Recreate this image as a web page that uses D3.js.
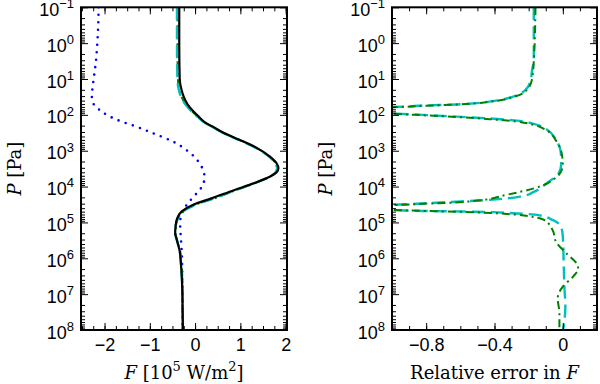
<!DOCTYPE html>
<html>
<head>
<meta charset="utf-8">
<script src="https://cdn.jsdelivr.net/npm/d3@7"></script>
<style>
  html, body { margin: 0; padding: 0; background: #fff; }
  svg { display: block; font-family: "DejaVu Serif", "Liberation Serif", serif; }
</style>
</head>
<body>
<svg id="chart" width="600" height="384"></svg>
<script>
// pressure axis: decades 10^-1 .. 10^8 (values below are log10 P [Pa])
const P_EXPONENTS = [-1, 0, 1, 2, 3, 4, 5, 6, 7, 8];

// left panel: net flux F [10^5 W/m^2]
const FLUX_TICKS = [-2, -1, 0, 1, 2];
const fluxLogP = [-1, 0, 1, 1.3, 1.5, 1.7, 1.9, 2.05, 2.2, 2.35, 2.5, 2.7, 2.9, 3.17, 3.35, 3.49, 3.6, 3.72, 3.91, 4.1, 4.33, 4.5, 4.7, 4.9, 5.1, 5.3, 5.5, 5.8, 6.2, 6.6, 7.0, 7.5, 8];
const fluxExact = [-0.35, -0.35, -0.34, -0.30, -0.25, -0.17, -0.04, 0.08, 0.21, 0.42, 0.63, 0.99, 1.33, 1.66, 1.80, 1.84, 1.80, 1.66, 1.29, 0.86, 0.36, -0.03, -0.30, -0.40, -0.43, -0.44, -0.40, -0.34, -0.31, -0.29, -0.28, -0.275, -0.27];
const fluxDashed = [-0.40, -0.40, -0.39, -0.36, -0.31, -0.22, -0.08, 0.05, 0.19, 0.40, 0.61, 0.97, 1.31, 1.64, 1.77, 1.81, 1.78, 1.65, 1.30, 0.89, 0.41, 0.01, -0.27, -0.39, -0.43, -0.44, -0.40, -0.34, -0.31, -0.29, -0.28, -0.275, -0.27];
const fluxDashDot = [-0.39, -0.39, -0.38, -0.35, -0.30, -0.21, -0.07, 0.06, 0.19, 0.40, 0.61, 0.98, 1.32, 1.65, 1.78, 1.82, 1.79, 1.66, 1.31, 0.90, 0.42, 0.02, -0.26, -0.38, -0.42, -0.43, -0.40, -0.33, -0.30, -0.28, -0.28, -0.28, -0.275];

const dottedLogP = [-1, -0.5, 0, 0.5, 1.0, 1.3, 1.5, 1.7, 1.85, 2.0, 2.15, 2.3, 2.5, 2.75, 3.0, 3.3, 3.55, 3.75, 3.95, 4.1, 4.3, 4.46, 4.65, 4.85, 5.07, 5.5, 6.0, 7.0, 8.0];
const fluxDotted = [-2.13, -2.14, -2.16, -2.19, -2.24, -2.27, -2.28, -2.24, -2.12, -1.95, -1.70, -1.36, -0.95, -0.48, -0.17, 0.07, 0.18, 0.21, 0.17, 0.10, -0.05, -0.15, -0.27, -0.32, -0.33, -0.31, -0.29, -0.28, -0.27];

// right panel: relative error in F (null = break at a zero crossing of F)
const ERR_TICKS = [-0.8, -0.4, 0];
const errDashedLogP = [-1, 0, 0.47, 0.75, 1.07, 1.31, 1.49, 1.63, 1.71, 1.74, 1.77, 1.80, null, 1.93, 1.96, 2.0, 2.05, 2.10, 2.16, 2.25, 2.42, 2.70, 2.96, 3.2, 3.4, 3.68, 3.82, 4.0, 4.15, 4.28, 4.37, 4.42, 4.47, 4.50, 4.53, null, 4.62, 4.65, 4.68, 4.70, 4.75, 4.79, 4.93, 5.12, 5.40, 6.14, 6.88, 7.3, 7.9, 8.0];
const errDashed = [-0.17, -0.17, -0.17, -0.18, -0.19, -0.22, -0.29, -0.43, -0.62, -0.82, -0.93, -1.2, null, -1.2, -1.01, -0.82, -0.62, -0.43, -0.27, -0.17, -0.09, -0.04, -0.015, -0.01, -0.01, -0.03, -0.07, -0.12, -0.17, -0.25, -0.43, -0.62, -0.82, -0.95, -1.2, null, -1.2, -1.01, -0.82, -0.52, -0.27, -0.15, -0.06, -0.01, 0.0, 0.005, 0.01, 0.015, 0.005, 0.0];
const errDashDotLogP = [-1, 0.5, 1.0, 1.3, 1.49, 1.63, 1.71, 1.75, 1.78, 1.81, null, 1.94, 1.97, 2.01, 2.06, 2.12, 2.18, 2.28, 2.45, 2.72, 3.0, 3.4, 3.65, 3.82, 3.91, 4.05, 4.23, 4.39, 4.45, 4.48, 4.51, 4.54, null, 4.62, 4.65, 4.68, 4.72, 4.78, 4.85, 4.93, 5.21, 5.54, 5.86, 6.14, 6.3, 6.51, 6.79, 7.12, 7.53, 8.0];
const errDashDot = [-0.16, -0.17, -0.18, -0.21, -0.28, -0.42, -0.61, -0.82, -0.95, -1.2, null, -1.2, -1.0, -0.82, -0.62, -0.43, -0.28, -0.17, -0.09, -0.04, -0.01, 0.0, -0.02, -0.06, -0.09, -0.17, -0.33, -0.50, -0.66, -0.82, -0.95, -1.2, null, -1.2, -1.0, -0.8, -0.5, -0.28, -0.17, -0.11, -0.06, -0.04, 0.02, 0.08, 0.09, 0.06, 0.0, -0.03, -0.02, -0.02];

const FONT = 18, SUP = 13;
const svg = d3.select('#chart');

function zip(logP, vals) {
  return logP.map((lp, i) => (lp == null || vals[i] == null) ? null : { p: Math.pow(10, lp), v: vals[i] });
}

function drawPanel(opt) {
  const { id, left, right, top, bottom, xDomain, xTicks, xMinorStep, xFormat, series, xLabel } = opt;
  const x = d3.scaleLinear().domain(xDomain).range([left, right]);
  const y = d3.scaleLog().domain([1e-1, 1e8]).range([top, bottom]);
  const g = svg.append('g');

  g.append('clipPath').attr('id', 'clip-' + id)
    .append('rect').attr('x', left).attr('y', top).attr('width', right - left).attr('height', bottom - top);

  const line = d3.line()
    .defined(d => d != null)
    .x(d => x(d.v)).y(d => y(d.p))
    .curve(d3.curveMonotoneY);

  const plot = g.append('g').attr('clip-path', `url(#clip-${id})`);
  for (const s of series) {
    plot.append('path')
      .attr('d', line(s.data))
      .attr('fill', 'none')
      .attr('stroke', s.color)
      .attr('stroke-width', s.width)
      .attr('stroke-dasharray', s.dash || null)
      .attr('stroke-linecap', s.cap || 'butt')
      .attr('stroke-linejoin', 'round');
  }

  // ticks (all pointing inward, on every side)
  const xMinor = d3.range(xDomain[0], xDomain[1] + 1e-9, xMinorStep)
    .map(v => Math.round(v / xMinorStep) * xMinorStep)
    .filter(v => v >= xDomain[0] - 1e-9 && v <= xDomain[1] + 1e-9);
  const yMajor = P_EXPONENTS.map(e => Math.pow(10, e));
  const yMinor = [];
  for (let e = -1; e < 8; e++) for (let k = 2; k <= 9; k++) yMinor.push(k * Math.pow(10, e));

  const axes = [
    [d3.axisBottom(x).tickValues(xMinor).tickSize(-4).tickFormat(''), `translate(0,${bottom})`],
    [d3.axisTop(x).tickValues(xMinor).tickSize(-4).tickFormat(''), `translate(0,${top})`],
    [d3.axisTop(x).tickValues(xTicks).tickSize(-7).tickFormat(''), `translate(0,${top})`],
    [d3.axisLeft(y).tickValues(yMinor).tickSize(-4).tickFormat(''), `translate(${left},0)`],
    [d3.axisRight(y).tickValues(yMinor).tickSize(-4).tickFormat(''), `translate(${right},0)`],
    [d3.axisRight(y).tickValues(yMajor).tickSize(-7).tickFormat(''), `translate(${right},0)`]
  ];
  for (const [ax, tr] of axes) {
    const a = g.append('g').attr('transform', tr).call(ax);
    a.select('.domain').remove();
    a.selectAll('line').attr('stroke', '#000').attr('stroke-width', 1);
  }

  const xAxis = g.append('g').attr('transform', `translate(0,${bottom})`)
    .call(d3.axisBottom(x).tickValues(xTicks).tickSize(-7).tickPadding(8).tickFormat(xFormat));
  xAxis.select('.domain').remove();
  xAxis.selectAll('line').attr('stroke', '#000').attr('stroke-width', 1);
  xAxis.selectAll('text').attr('font-size', FONT).attr('font-family', null).attr('fill', '#000');

  const yAxis = g.append('g').attr('transform', `translate(${left},0)`)
    .call(d3.axisLeft(y).tickValues(yMajor).tickSize(-7).tickPadding(7).tickFormat(''));
  yAxis.select('.domain').remove();
  yAxis.selectAll('line').attr('stroke', '#000').attr('stroke-width', 1);
  yAxis.selectAll('text').each(function (d) {
    const t = d3.select(this).attr('font-size', FONT).attr('font-family', null).attr('fill', '#000').attr('dy', '0.45em');
    const e = Math.round(Math.log10(d));
    t.append('tspan').text('10');
    t.append('tspan').attr('font-size', SUP).attr('dy', '-0.6em').text(e < 0 ? '\u2212' + (-e) : String(e));
  });

  // frame
  g.append('rect')
    .attr('x', left).attr('y', top).attr('width', right - left).attr('height', bottom - top)
    .attr('fill', 'none').attr('stroke', '#000').attr('stroke-width', 2);

  // y label
  const yl = g.append('text')
    .attr('transform', `translate(${left - 60},${(top + bottom) / 2}) rotate(-90)`)
    .attr('text-anchor', 'middle').attr('font-size', FONT);
  yl.append('tspan').attr('font-style', 'italic').text('P');
  yl.append('tspan').text(' [Pa]');

  // x label
  const xl = g.append('text')
    .attr('x', (left + right) / 2).attr('y', bottom + 49)
    .attr('text-anchor', 'middle').attr('font-size', FONT);
  xLabel(xl);
}

drawPanel({
  id: 'flux', left: 81, right: 287, top: 7.3, bottom: 330,
  xDomain: [-2.52, 2.03], xTicks: FLUX_TICKS, xMinorStep: 0.25,
  xFormat: d3.format('d'),
  series: [
    { data: zip(dottedLogP, fluxDotted), color: '#0000ff', width: 2.6, dash: '0,7.5', cap: 'round' },
    { data: zip(fluxLogP, fluxDashDot), color: '#008000', width: 2, dash: '8,4,2,4' },
    { data: zip(fluxLogP, fluxDashed), color: '#00bfbf', width: 2.4, dash: '13,6' },
    { data: zip(fluxLogP, fluxExact), color: '#000000', width: 2.2 }
  ],
  xLabel: t => {
    t.append('tspan').attr('font-style', 'italic').text('F');
    t.append('tspan').text(' [10');
    t.append('tspan').attr('font-size', SUP).attr('dy', '-0.6em').text('5');
    t.append('tspan').attr('dy', '0.433em').text(' W/m');
    t.append('tspan').attr('font-size', SUP).attr('dy', '-0.6em').text('2');
    t.append('tspan').attr('dy', '0.433em').text(']');
  }
});

drawPanel({
  id: 'err', left: 392, right: 597, top: 7.3, bottom: 330,
  xDomain: [-1, 0.2], xTicks: ERR_TICKS, xMinorStep: 0.1,
  xFormat: v => v === 0 ? '0' : d3.format('.1f')(v),
  series: [
    { data: zip(errDashedLogP, errDashed), color: '#00bfbf', width: 2.4, dash: '13,6' },
    { data: zip(errDashDotLogP, errDashDot), color: '#008000', width: 2, dash: '8,4,2,4' }
  ],
  xLabel: t => {
    t.append('tspan').text('Relative error in ');
    t.append('tspan').attr('font-style', 'italic').text('F');
  }
});
</script>
</body>
</html>
